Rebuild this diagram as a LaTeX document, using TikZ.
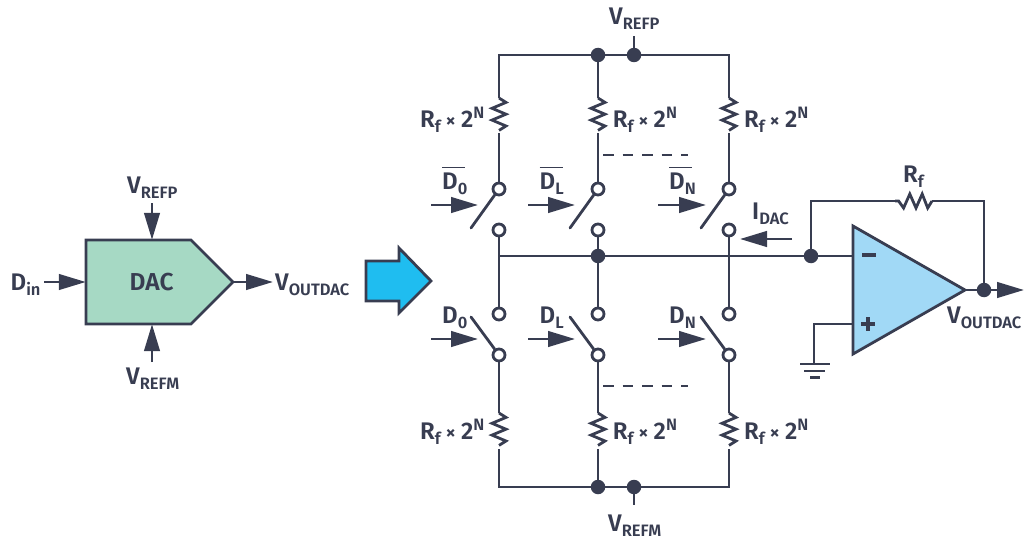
\documentclass[tikz,border=0pt]{standalone}
\usepackage{fontspec}
\setmainfont{Fira Sans SemiBold}
\usetikzlibrary{arrows.meta}
\definecolor{ink}{HTML}{383D51}
\definecolor{dacgreen}{HTML}{A6D9C4}
\definecolor{bigblue}{HTML}{1FBDF0}
\definecolor{ampblue}{HTML}{A1D9F6}
\newcommand\lsub[1]{\raisebox{-5.7pt}{\fontsize{16.5}{16.5}\selectfont #1}}
\newcommand\lsup[1]{\raisebox{9pt}{\fontsize{16.5}{16.5}\selectfont #1}}
\newcommand\rlabel{R\lsub{f}\kern5pt{\fontsize{20}{20}\selectfont ×}\kern5pt 2\lsup{N}}
\newcommand\barred[2]{\rlap{\raisebox{21pt}{\rule{#1pt}{1.5pt}}}#2}
\tikzset{
  wire/.style={draw=ink,line width=2.8pt},
  lab/.style={anchor=base west,inner sep=0pt,text=ink,yshift=-1pt,font=\fontsize{24}{24}\selectfont},
  sig/.style={wire,-{Triangle[length=27pt,width=15.5pt,fill=ink]},shorten >=0pt},
  pin/.style={circle,draw=ink,line width=2.8pt,fill=white,minimum size=12pt,inner sep=0pt},
  dot/.style={circle,fill=ink,minimum size=14.5pt,inner sep=0pt},
  point/.style={inner sep=0pt,minimum size=0pt},
  blade/.style={wire,line cap=round},
  dashline/.style={wire,dash pattern=on 10.5pt off 9pt}
}
% vertical resistor: #1 top coordinate, 35 px long
\newcommand\vres[1]{\draw[wire,line join=miter] (#1) -- ++(7,4.4) -- ++(-14,5.9) -- ++(14,5.9) -- ++(-14,5.9) -- ++(14,5.9) -- ++(-7,4.4);}
\begin{document}
\begin{tikzpicture}[x=1pt,y=-1pt]
\useasboundingbox (0,0) rectangle (1026,543);
% ---- DAC block
\node[draw=none,point] (dacT) at (152,240) {};
\node[point] (dacB) at (152,324) {};
\node[point] (dacL) at (86,282) {};
\node[point] (dacR) at (233,282) {};
\draw[wire,fill=dacgreen,line join=miter] (86,240) -- (191,240) -- (233,282) -- (191,324) -- (86,324) -- cycle;
\node[lab,font=\fontsize{24.5}{24.5}\selectfont] (dactext) at (129.5,289) {DAC};
\node[lab] (din) at (10.5,289) {D\lsub{in}};
\node[lab] (vrefpL) at (127,192) {V\lsub{REFP}};
\node[lab] (vrefmL) at (126,383) {V\lsub{REFM}};
\node[lab] (voutL) at (275,289) {V\lsub{OUTDAC}};
\coordinate (dinS) at (44,282);
\coordinate (vpS) at (152,203);
\coordinate (vmS) at (152,362);
\coordinate (voE) at (273,282);
\draw[sig] (dinS) -- (dacL);
\draw[sig] (vpS) -- (dacT);
\draw[sig] (vmS) -- (dacB);
\draw[sig] (dacR) -- (voE);
% ---- big arrow
\draw[ink,line width=2.8pt,fill=bigblue,line join=miter] (366,261) -- (399,261) -- (399,248) -- (431,281) -- (399,313) -- (399,301) -- (366,301) -- cycle;
% ---- ladder coordinates
\coordinate (tl) at (499,55);
\coordinate (tr) at (729,55);
\coordinate (bl) at (499,487);
\coordinate (br) at (729,487);
\foreach \n/\x in {a/499,b/598,c/729}{
  \coordinate (rt\n) at (\x,98);
  \coordinate (rte\n) at (\x,133);
  \coordinate (rb\n) at (\x,413);
  \coordinate (rbe\n) at (\x,449);
}
\coordinate (busL) at (499,256);
\coordinate (busM) at (729,256);
\coordinate (tapT) at (634,36);
\coordinate (tapB) at (634,505);
\node[dot] (dt1) at (598,55) {};
\node[dot] (dt2) at (634,55) {};
\node[dot] (db1) at (598,487) {};
\node[dot] (db2) at (634,487) {};
\node[dot] (dbus) at (598,256) {};
\node[dot] (dsum) at (811,256) {};
\node[dot] (dout) at (984,290) {};
% rails
\draw[wire,line join=miter] (rta) -- (tl) -- (tr) -- (rtc);
\draw[wire,line join=miter] (rbea) -- (bl) -- (br) -- (rbec);
\draw[wire] (dt1) -- (rtb);
\draw[wire] (db1) -- (rbeb);
\draw[wire] (dt2) -- (tapT);
\draw[wire] (db2) -- (tapB);
\foreach \n in {a,b,c}{ \vres{rt\n} \vres{rb\n} }
% switches
\foreach \n/\x/\k in {a/499/471,b/598/570,c/729/701}{
  \node[pin] (s1\n) at (\x,189) {};
  \node[pin] (s2\n) at (\x,230) {};
  \node[pin] (s3\n) at (\x,314) {};
  \node[pin] (s4\n) at (\x,355) {};
  \coordinate (kt\n) at (\k,228);
  \coordinate (kb\n) at (\k,317);
  \draw[blade] (s1\n) -- (kt\n);
  \draw[blade] (s4\n) -- (kb\n);
  \draw[wire] (rte\n) -- (s1\n);
  \draw[wire] (s4\n) -- (rb\n);
  \draw[wire] (s2\n) -- (s3\n);
}
% control arrows
\foreach \n/\a/\b in {a/431/478,b/528/575,c/658/706}{
  \coordinate (cts\n) at (\a,205);
  \coordinate (cte\n) at (\b,205);
  \coordinate (cbs\n) at (\a,339);
  \coordinate (cbe\n) at (\b,339);
  \draw[sig] (cts\n) -- (cte\n);
  \draw[sig] (cbs\n) -- (cbe\n);
}
% dashes
\coordinate (dta) at (603,155);
\coordinate (dtb) at (688,155);
\coordinate (dba) at (603,386);
\coordinate (dbb) at (688,386);
\draw[dashline] (dta) -- (dtb);
\draw[dashline] (dba) -- (dbb);
% op amp
\node[point] (ampM) at (853,256) {};
\node[point] (ampP) at (853,324) {};
\node[point] (ampO) at (965,290) {};
\draw[wire] (busL) -- (dbus) -- (dsum) -- (ampM);
\draw[wire,fill=ampblue,line join=miter] (853,226) -- (965,290) -- (853,354) -- cycle;
\draw[wire,line width=3.4pt] (862,255) -- (876,255);
\draw[wire,line width=3.4pt] (861,324) -- (875,324) (868,317) -- (868,331);
% feedback
\coordinate (fbA) at (811,201);
\coordinate (fbB) at (895,201);
\coordinate (fbC) at (932,201);
\coordinate (fbD) at (984,201);
\draw[wire,line join=miter] (dsum) -- (fbA) -- (fbB);
\draw[wire,line join=miter] (fbB) -- ++(3.6,0) -- ++(5,7) -- ++(6.2,-14) -- ++(6.2,14) -- ++(6.2,-14) -- ++(5.5,14) -- ++(4.3,-7) -- (fbC);
\draw[wire,line join=miter] (fbC) -- (fbD) -- (dout);
\coordinate (outE) at (1024,290);
\draw[wire] (ampO) -- (dout);
\draw[sig] (dout) -- (outE);
% I_DAC arrow
\coordinate (idS) at (792,239);
\coordinate (idE) at (740,239);
\draw[sig] (idS) -- (idE);
% ground
\coordinate (gnd) at (814,364);
\coordinate (gndC) at (814,324);
\draw[wire,line join=miter] (ampP) -- (gndC) -- (gnd);
\draw[wire] (800,364) -- (830,364);
\draw[wire] (804,371) -- (825,371);
\draw[wire] (810,377.5) -- (820,377.5);
% labels
\node[lab] (vrefpT) at (609,23.3) {V\lsub{REFP}};
\node[lab] (vrefmB) at (608,530) {V\lsub{REFM}};
\node[lab] (r1) at (420,126) {\rlabel};
\node[lab] (r2) at (612.7,126) {\rlabel};
\node[lab] (r3) at (744,126) {\rlabel};
\node[lab] (r4) at (420,438) {\rlabel};
\node[lab] (r5) at (612.7,438) {\rlabel};
\node[lab] (r6) at (744,438) {\rlabel};
\node[lab] (nd0) at (442,188) {\barred{23}{D\lsub{0}}};
\node[lab] (ndl) at (539.5,188) {\barred{23}{D\lsub{L}}};
\node[lab] (ndn) at (669,188) {\barred{23}{D\lsub{N}}};
\node[lab] (d0) at (442,322) {D\lsub{0}};
\node[lab] (dl) at (539.5,322) {D\lsub{L}};
\node[lab] (dn) at (669,322) {D\lsub{N}};
\node[lab] (idac) at (752,218) {I\lsub{DAC}};
\node[lab] (rf) at (903,181) {R\lsub{f}};
\node[lab] (voutR) at (947,322) {V\lsub{OUTDAC}};
\end{tikzpicture}
\end{document}
